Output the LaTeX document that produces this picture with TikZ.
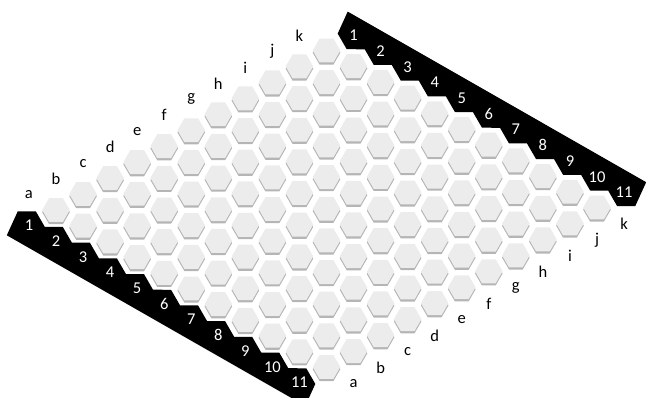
\documentclass[tikz,border=0pt]{standalone}
\usepackage{fontspec}
\setmainfont{Carlito}
\begin{document}
\begin{tikzpicture}[x=1pt,y=-1pt,
  hexface/.style={fill=gray!15, draw=none},
  hexshade/.style={fill=gray!58, draw=none},
  lbl/.style={font=\fontsize{16.5}{16.5}\selectfont, text=black, inner sep=0pt},
  num/.style={lbl, text=white},
  band/.style={fill=black, draw=none}]
\def\R{13.8}
\useasboundingbox (0,0) rectangle (646,398);
\clip (0,0) rectangle (646,398);
% bottom-left band
\fill[band] (17.8,211.3)
  \foreach \j in {0,...,10}{ -- ({35.8+27.05*\j},{211.3+15.7*\j}) -- ({44.8+27.05*\j},{226.9+15.7*\j}) }
  -- (305.3,405.9) -- (6.8,235.3) -- cycle;
% top-right band
\fill[band] (347.7,11.6) -- (646.2,182.2) -- (635.2,206.2)
  \foreach \j in {10,...,0}{ -- ({346.7+27.05*\j},{49.2+15.7*\j}) -- ({337.7+27.05*\j},{33.6+15.7*\j}) }
  -- cycle;
% cells
\foreach \i in {0,...,10}{\foreach \j in {0,...,10}{
  \pgfmathsetmacro\cx{56+27.05*(\i+\j)}
  \pgfmathsetmacro\cy{210-15.95*\i+15.7*\j}
  \coordinate (c-\i-\j) at (\cx,\cy);
  \fill[hexshade] (\cx,\cy+2.2) +(0:\R) -- +(60:\R) -- +(120:\R) -- +(180:\R) -- +(240:\R) -- +(300:\R) -- cycle;
  \fill[hexface] (c-\i-\j) +(0:\R) -- +(60:\R) -- +(120:\R) -- +(180:\R) -- +(240:\R) -- +(300:\R) -- cycle;
}}
% letter labels
\foreach \i/\l in {0/a,1/b,2/c,3/d,4/e,5/f,6/g,7/h,8/i,9/j,10/k}{
  \node[lbl] (lt-\i) at ({28.95+27.05*\i},{195-15.95*\i}) {\l};
  \node[lbl] (lb-\i) at ({353.55+27.05*\i},{383.5-15.95*\i}) {\l};
}
% number labels
\foreach \j in {0,...,10}{
  \pgfmathtruncatemacro\n{\j+1}
  \node[num] (nl-\j) at ({28.95+27.05*\j},{225.5+15.7*\j}) {\n};
  \node[num] (nr-\j) at ({353.55+27.05*\j},{35.5+15.7*\j}) {\n};
}
\end{tikzpicture}
\end{document}
